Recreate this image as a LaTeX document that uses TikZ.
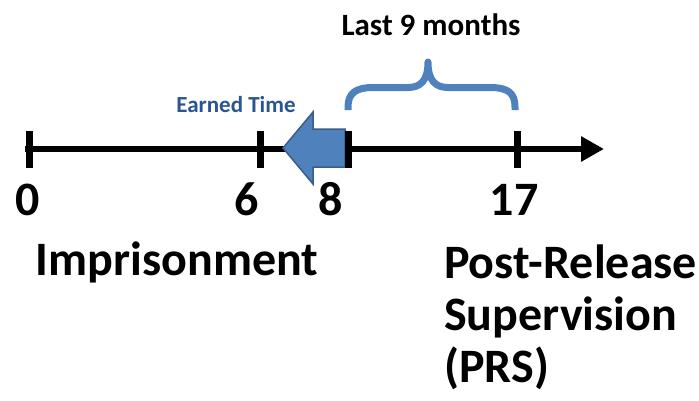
\documentclass[tikz,border=0pt]{standalone}
\usepackage{fontspec}
\setmainfont{Carlito}
\usetikzlibrary{arrows.meta}
\definecolor{officeblue}{HTML}{4F81BD}
\definecolor{officeborder}{HTML}{385D8A}
\definecolor{earnedblue}{HTML}{2A5592}
\tikzset{
  bigtext/.style={font=\bfseries\fontsize{48}{52}\selectfont, inner sep=0pt, anchor=base},
  ticktick/.style={line width=7pt},
  timeline/.style={line width=6pt, -{Triangle[length=23pt,width=24pt]}},
  bracestyle/.style={draw=officeblue, line width=7pt, line join=round},
}
\begin{document}
\begin{tikzpicture}[x=1pt,y=-1pt]
\useasboundingbox (0,0) rectangle (699,400);
% timeline
\coordinate (start) at (25,149);
\coordinate (end) at (604,149);
\draw[timeline] (start) -- (end);
% earned time arrow
\filldraw[fill=officeblue, draw=officeborder, line width=1.5pt]
  (283,148) -- (313,112) -- (313,129) -- (345,129) -- (345,167) -- (313,167) -- (313,184) -- cycle;
% ticks
\coordinate (t0) at (29,149);
\coordinate (t6) at (260,149);
\coordinate (t8) at (348,149);
\coordinate (t17) at (517,149);
\foreach \t in {t0,t6,t8,t17}
  \draw[ticktick] ([yshift=-19pt]\t) -- ([yshift=18pt]\t);
% brace
\draw[bracestyle] (348,110) -- (348,107) .. controls (348,93) and (356,87.5) .. (373,87.5) -- (408,87.5)
  .. controls (421,87.5) and (428,80) .. (428,62)
  .. controls (428,80) and (435,87.5) .. (448,87.5) -- (490,87.5)
  .. controls (508,87.5) and (515,93) .. (515,107) -- (515,110);
% labels
\node[bigtext] (n0) at (28,215) {0};
\node[bigtext] (n6) at (247,215) {6};
\node[bigtext] (n8) at (331,215) {8};
\node[bigtext] (n17) at (514,215) {17};
\node[bigtext] (imp) at (177,275) {Imprisonment};
\node[bigtext, anchor=base west, align=left] (prs) at (444,382) {Post-Release\\Supervision\\(PRS)};
\node[font=\bfseries\fontsize{31}{36}\selectfont, inner sep=0pt, anchor=base] (last) at (431,35) {Last 9 months};
\node[font=\bfseries\fontsize{23}{27}\selectfont, inner sep=0pt, anchor=base, text=earnedblue] (earned) at (236,112) {Earned Time};
\end{tikzpicture}
\end{document}
